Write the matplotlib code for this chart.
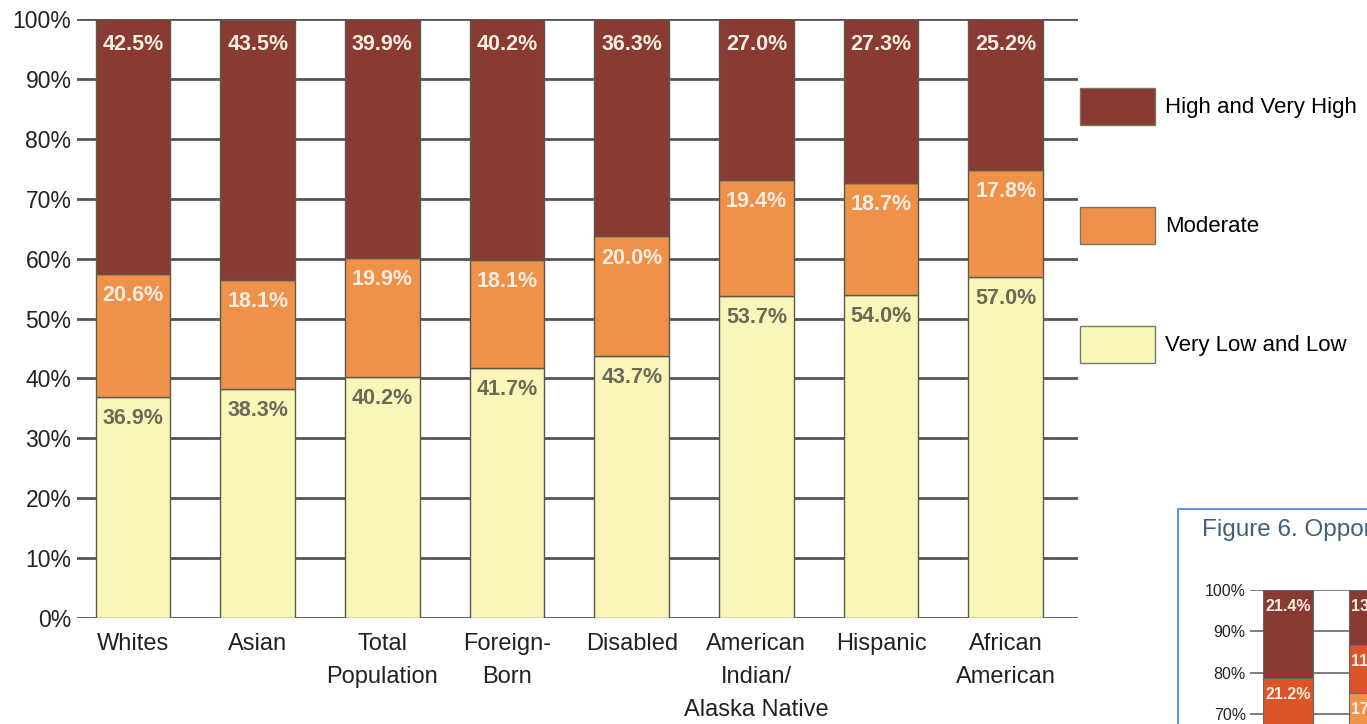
import numpy as np
import matplotlib
matplotlib.use('Agg')
import matplotlib.pyplot as plt
from matplotlib.patches import Rectangle, Patch

plt.rcParams['font.family'] = ['Liberation Sans', 'DejaVu Sans']

groups = ['Whites', 'Asian', 'Total\nPopulation', 'Foreign-\nBorn', 'Disabled',
          'American\nIndian/\nAlaska Native', 'Hispanic', 'African\nAmerican']
low = [36.9, 38.3, 40.2, 41.7, 43.7, 53.7, 54.0, 57.0]
moderate = [20.6, 18.1, 19.9, 18.1, 20.0, 19.4, 18.7, 17.8]
high = [42.5, 43.5, 39.9, 40.2, 36.3, 27.0, 27.3, 25.2]
series_names = ['High and Very High', 'Moderate', 'Very Low and Low']

# cut-off piece of the next figure in the source page
frag_title = 'Figure 6. Oppor'
frag_top = [21.4, 13.3]
frag_mid = [21.2, 11.7]
frag_low = [np.nan, 17.5]

c_high = '#883a33'
c_mod = '#ef9149'
c_low = '#faf5b8'
c_text_light = '#f7ede0'
c_text_dark = '#6b6a57'
grid_c = '#555555'

fig = plt.figure(figsize=(13.67, 7.24), dpi=100)
ax = fig.add_axes([77 / 1367, 1 - 618 / 724, 1001 / 1367, 599 / 724])

x = np.arange(len(groups))
w = 0.6
low = np.array(low)
moderate = np.array(moderate)
high = np.array(high)

ax.bar(x, low, w, color=c_low, edgecolor='#5a5a4a', lw=1, zorder=3)
ax.bar(x, moderate, w, bottom=low, color=c_mod, edgecolor='#5a5a4a', lw=1, zorder=3)
ax.bar(x, high, w, bottom=low + moderate, color=c_high, edgecolor='#5a5a4a', lw=1, zorder=3)

for i in range(len(groups)):
    ax.text(x[i], 100 - 4.3, f'{high[i]:.1f}%', ha='center', va='center',
            fontsize=15.5, fontweight='bold', color=c_text_light, zorder=4)
    ax.text(x[i], low[i] + moderate[i] - 3.6, f'{moderate[i]:.1f}%', ha='center', va='center',
            fontsize=15.5, fontweight='bold', color=c_text_light, zorder=4)
    ax.text(x[i], low[i] - 3.6, f'{low[i]:.1f}%', ha='center', va='center',
            fontsize=15.5, fontweight='bold', color=c_text_dark, zorder=4)

ax.set_xlim(-0.45, 7.58)
ax.set_ylim(0, 100)
ax.set_yticks(np.arange(0, 101, 10))
ax.set_yticklabels([f'{v}%' for v in range(0, 101, 10)], fontsize=16.5, color='#222222')
ax.set_xticks(x)
ax.set_xticklabels(groups, fontsize=17, color='#222222', linespacing=1.65)
ax.tick_params(axis='both', length=0)
ax.tick_params(axis='y', pad=4)
ax.tick_params(axis='x', pad=10.5)
ax.yaxis.grid(True, color=grid_c, lw=2, zorder=0)
ax.set_axisbelow(True)
for s in ax.spines.values():
    s.set_visible(False)

handles = [Patch(facecolor=c, edgecolor='#777766', lw=1) for c in [c_high, c_mod, c_low]]
fig.legend(handles, series_names, loc='upper left', bbox_to_anchor=(1080 / 1367, 1 - 88 / 724),
           frameon=False, fontsize=16, handlelength=3.38, handleheight=2.17,
           labelspacing=3.7, handletextpad=0.45, borderpad=0, borderaxespad=0)

# fragment of the following figure, clipped by the page edge
fig.add_artist(Rectangle((1178 / 1367, -0.1), 0.2, 1.1 - 509 / 724, transform=fig.transFigure,
                         facecolor='none', edgecolor='#6a94d4', lw=1.5))
fig.text(1202 / 1367, 1 - 530 / 724, frag_title, fontsize=17.5, color='#3f5f7a',
         va='center', ha='left')

ax2 = fig.add_axes([1250 / 1367, 1 - 1003 / 724, 250 / 1367, 413 / 724])
fx = np.arange(len(frag_top))
ft = np.array(frag_top)
fm = np.array(frag_mid)
fl = np.array(frag_low)
ax2.bar(fx, ft, 0.58, bottom=100 - ft, color=c_high, edgecolor='#666666', lw=0.8, zorder=3)
ax2.bar(fx, fm, 0.58, bottom=100 - ft - fm, color='#dc5428', edgecolor='#666666', lw=0.8, zorder=3)
ax2.bar(fx, fl, 0.58, bottom=100 - ft - fm - fl, color='#f0924a', edgecolor='#666666', lw=0.8, zorder=3)
for i in range(len(fx)):
    ax2.text(fx[i], 100 - 4, f'{ft[i]:.1f}%', ha='center', va='center', fontsize=11.5,
             fontweight='bold', color=c_text_light, zorder=4)
    ax2.text(fx[i], 100 - ft[i] - 4, f'{fm[i]:.1f}%', ha='center', va='center', fontsize=11.5,
             fontweight='bold', color=c_text_light, zorder=4)
    if not np.isnan(fl[i]):
        ax2.text(fx[i], 100 - ft[i] - fm[i] - 4, f'{fl[i]:.1f}%', ha='center', va='center',
                 fontsize=11.5, fontweight='bold', color=c_text_light, zorder=4)
ax2.set_xlim(-0.44, 2.47)
ax2.set_ylim(0, 100)
ax2.set_yticks(np.arange(0, 101, 10))
ax2.set_yticklabels([f'{v}%' for v in range(0, 101, 10)], fontsize=11.5, color='#222222')
ax2.set_xticks([])
ax2.tick_params(axis='y', length=0, pad=3)
ax2.yaxis.grid(True, color='#666666', lw=1.2, zorder=0)
ax2.set_axisbelow(True)
for s in ax2.spines.values():
    s.set_visible(False)

fig.savefig('out.png', dpi=100)
